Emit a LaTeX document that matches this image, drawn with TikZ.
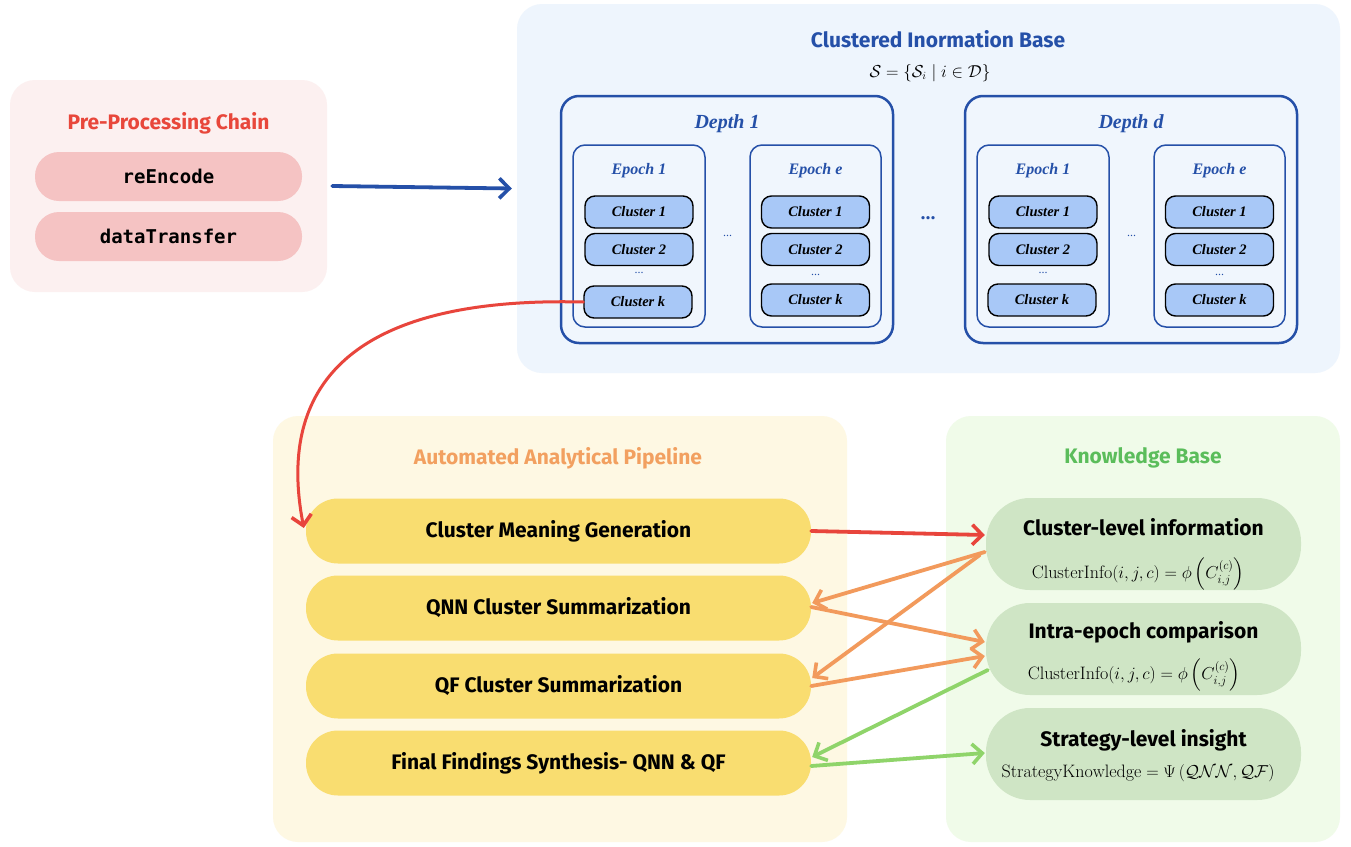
\documentclass[tikz,border=0pt]{standalone}
\usepackage{amsmath,amssymb}
\usepackage{fontspec}
\newfontfamily\hd{Fira Sans}
\newfontfamily\tms{Liberation Serif}
\newfontfamily\mono{DejaVu Sans Mono}
\usetikzlibrary{arrows.meta,calc}
\definecolor{pinkbg}{HTML}{FCF0F0}
\definecolor{pinkpill}{HTML}{F5C3C3}
\definecolor{redt}{HTML}{E8473B}
\definecolor{bluebg}{HTML}{EEF5FD}
\definecolor{blued}{HTML}{2550A8}
\definecolor{depthbg}{HTML}{F0F6FD}
\definecolor{clusterf}{HTML}{A8C8F7}
\definecolor{yellowbg}{HTML}{FEF8E3}
\definecolor{yellowpill}{HTML}{F9DD70}
\definecolor{oranget}{HTML}{F2A060}
\definecolor{greenbg}{HTML}{F0FBE9}
\definecolor{greenpill}{HTML}{CFE5C5}
\definecolor{greent}{HTML}{5BBD5B}
\definecolor{arred}{HTML}{E8453C}
\definecolor{arorange}{HTML}{F29A5C}
\definecolor{argreen}{HTML}{8FD46A}
\tikzset{
  panel/.style={draw=none, rounded corners=25pt, inner sep=0pt},
  ptitle/.style={font=\hd\bfseries\fontsize{21}{25}\selectfont},
  monopill/.style={fill=pinkpill, rounded corners=24pt, minimum width=267pt, minimum height=49pt, inner sep=0pt, font=\mono\bfseries\fontsize{19}{22}\selectfont},
  depthbox/.style={draw=blued, line width=2.5pt, fill=depthbg, rounded corners=18pt, minimum width=332pt, minimum height=247pt, inner sep=0pt},
  epochbox/.style={draw=blued, line width=1.5pt, fill=depthbg, rounded corners=12pt, minimum height=182pt, inner sep=0pt},
  depthtitle/.style={text=blued, font=\tms\bfseries\itshape\fontsize{20}{24}\selectfont},
  epochtitle/.style={text=blued, font=\tms\bfseries\itshape\fontsize{16}{19}\selectfont},
  clusterbox/.style={draw=black, line width=1.4pt, fill=clusterf, rounded corners=10pt, minimum width=108pt, minimum height=32pt, inner sep=0pt, font=\tms\bfseries\itshape\fontsize{14.5}{17}\selectfont},
  dotsmall/.style={text=blued, font=\tms\fontsize{12}{14}\selectfont},
  ypill/.style={fill=yellowpill, rounded corners=32pt, minimum width=505pt, minimum height=65pt, inner sep=0pt, font=\hd\bfseries\fontsize{21}{25}\selectfont},
  gpill/.style={fill=greenpill, rounded corners=44pt, minimum width=315pt, minimum height=92pt, inner sep=0pt},
  gtitle/.style={font=\hd\bfseries\fontsize{21}{25}\selectfont, inner sep=0pt},
  gform/.style={font=\fontsize{18}{21}\selectfont, inner sep=0pt},
  conn/.style={line width=3.8pt, line cap=round, -{Straight Barb[length=10pt,width=20pt,line width=3.6pt]}},
}
\begin{document}
\begin{tikzpicture}[x=1pt,y=-1pt]
\useasboundingbox (0,0) rectangle (1351,846);
\fill[white] (0,0) rectangle (1351,846);
% Pre-processing
\node[panel, fill=pinkbg, minimum width=317pt, minimum height=212pt] (pre) at (168.5,186) {};
\node[ptitle, text=redt] (pretitle) at (168.5,123) {Pre-Processing Chain};
\node[monopill] (reenc) at (168.5,176.5) {reEncode};
\node[monopill] (dtrans) at (168.5,236.5) {dataTransfer};
% Clustered information base
\node[panel, fill=bluebg, minimum width=823pt, minimum height=369pt] (cib) at (928.5,188.5) {};
\node[ptitle, text=blued] (cibtitle) at (938,39) {Clustered Inormation Base};
\node[font=\fontsize{16}{19}\selectfont] (cibform) at (930,73) {$\mathcal{S}=\{\mathcal{S}_i \mid i\in\mathcal{D}\}$};
% Depth 1
\node[depthbox] (d1) at (727,219.5) {};
\node[depthtitle] (d1t) at (727,124) {Depth 1};
\node[epochbox, minimum width=132pt] (d1e1) at (639,236) {};
\node[epochtitle] (d1e1t) at (639,171) {Epoch 1};
\node[clusterbox] (d1e1c1) at (639,212) {Cluster 1};
\node[clusterbox] (d1e1c2) at (639,249.5) {Cluster 2};
\node[dotsmall] (d1e1dots) at (639,273) {...};
\node[clusterbox] (d1e1ck) at (638,302) {Cluster k};
\node[dotsmall] (d1dots) at (727.5,236) {...};
\node[epochbox, minimum width=131pt] (d1ee) at (815.5,236) {};
\node[epochtitle] (d1eet) at (815.5,171) {Epoch e};
\node[clusterbox] (d1eec1) at (815.5,212) {Cluster 1};
\node[clusterbox] (d1eec2) at (815.5,249.5) {Cluster 2};
\node[dotsmall] (d1eedots) at (815.5,275) {...};
\node[clusterbox] (d1eeck) at (815.5,300) {Cluster k};
% between depths
\node[text=blued, font=\tms\bfseries\fontsize{20}{24}\selectfont] (ddots) at (928,218) {...};
% Depth d
\node[depthbox] (dd) at (1131,219.5) {};
\node[depthtitle] (ddt) at (1131,124) {Depth d};
\node[epochbox, minimum width=132pt] (dde1) at (1043,236) {};
\node[epochtitle] (dde1t) at (1043,171) {Epoch 1};
\node[clusterbox] (dde1c1) at (1043,212) {Cluster 1};
\node[clusterbox] (dde1c2) at (1043,249.5) {Cluster 2};
\node[dotsmall] (dde1dots) at (1043,273) {...};
\node[clusterbox] (dde1ck) at (1042,300) {Cluster k};
\node[dotsmall] (dddots) at (1131.5,236) {...};
\node[epochbox, minimum width=131pt] (ddee) at (1219.5,236) {};
\node[epochtitle] (ddeet) at (1219.5,171) {Epoch e};
\node[clusterbox] (ddeec1) at (1219.5,212) {Cluster 1};
\node[clusterbox] (ddeec2) at (1219.5,249.5) {Cluster 2};
\node[dotsmall] (ddeedots) at (1219.5,275) {...};
\node[clusterbox] (ddeeck) at (1219.5,300) {Cluster k};
% Automated pipeline
\node[panel, fill=yellowbg, minimum width=574pt, minimum height=426pt] (aap) at (560,629) {};
\node[ptitle, text=oranget] (aaptitle) at (558,458) {Automated Analytical Pipeline};
\node[ypill] (cmg) at (558.5,531) {Cluster Meaning Generation};
\node[ypill] (qnn) at (558.5,608) {QNN Cluster Summarization};
\node[ypill] (qf) at (558.5,686) {QF Cluster Summarization};
\node[ypill] (fin) at (558.5,763) {Final Findings Synthesis- QNN \& QF};
% Knowledge base
\node[panel, fill=greenbg, minimum width=394pt, minimum height=426pt] (kb) at (1143,629) {};
\node[ptitle, text=greent] (kbtitle) at (1143,458) {Knowledge Base};
\node[gpill] (kb1) at (1143.5,544) {};
\node[gtitle] (kb1t) at (1143.5,527) {Cluster-level information};
\node[gform] (kb1f) at (1138,574) {$\mathrm{ClusterInfo}(i,j,c)=\phi\left(C_{i,j}^{(c)}\right)$};
\node[gpill] (kb2) at (1143.5,649) {};
\node[gtitle] (kb2t) at (1143.5,632) {Intra-epoch comparison};
\node[gform] (kb2f) at (1134,675) {$\mathrm{ClusterInfo}(i,j,c)=\phi\left(C_{i,j}^{(c)}\right)$};
\node[gpill] (kb3) at (1143.5,754) {};
\node[gtitle] (kb3t) at (1143.5,740) {Strategy-level insight};
\node[gform] (kb3f) at (1138,773) {$\mathrm{StrategyKnowledge}=\Psi\left(\mathcal{QNN},\mathcal{QF}\right)$};
% connectors
\draw[conn, blued] ($(pre.east)+(5,0)$) -- ($(cib.west)+(-5,0)$);
\draw[conn, arred, line width=3pt] (d1e1ck.west) .. controls (300,295) and (285,430) .. ($(cmg.west)+(-2,-3)$);
\draw[conn, arred] (cmg.east) -- ($(kb1.west)+(-1,-9)$);
\draw[conn, arorange] ($(kb1.west)+(-1,8)$) -- ($(qnn.east)+(1,-5)$);
\draw[conn, arorange] ($(kb1.west)+(-6,11)$) -- ($(qf.east)+(1,-8)$);
\draw[conn, arorange] ($(qnn.east)+(0,-1)$) -- ($(kb2.west)+(-1,-7)$);
\draw[conn, arorange] (qf.east) -- ($(kb2.west)+(-1,7)$);
\draw[conn, argreen] ($(kb2.west)+(2,21)$) -- ($(fin.east)+(1,-6)$);
\draw[conn, argreen] ($(fin.east)+(0,3)$) -- ($(kb3.west)+(-1,-1)$);
\end{tikzpicture}
\end{document}
